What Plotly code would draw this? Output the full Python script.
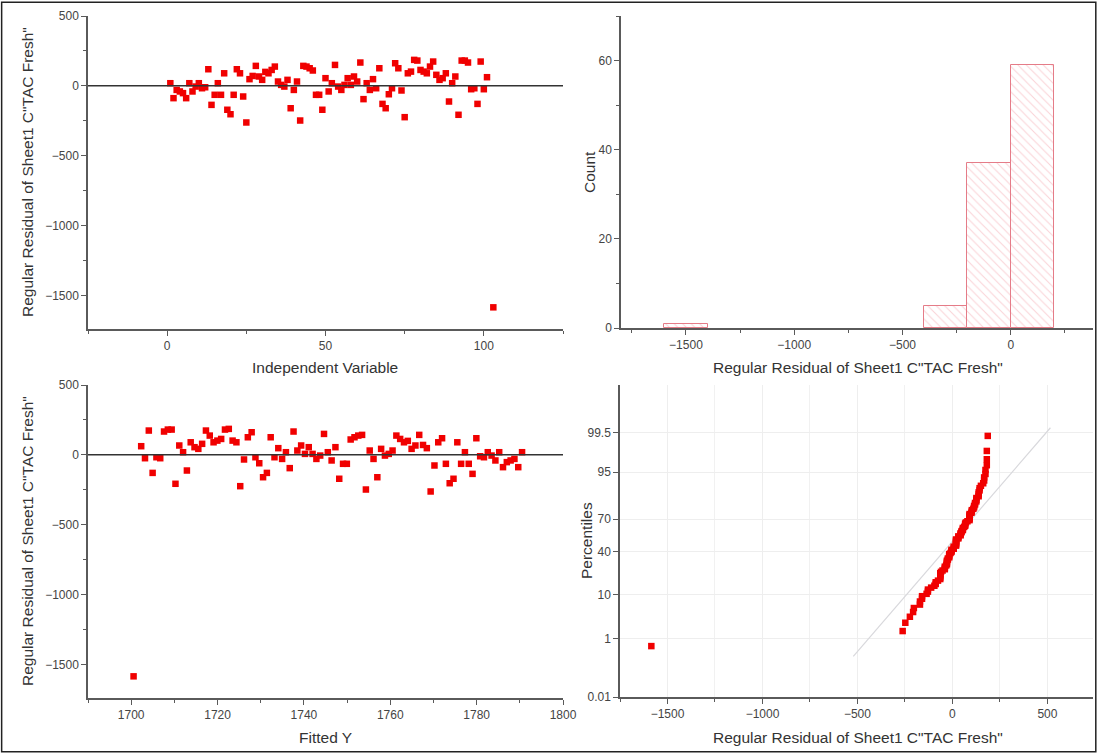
import plotly.graph_objects as go
from statistics import NormalDist

# ---- data ----
residuals = [19, -88, -29, -40, -52, -88, 19, -40, -5, 19, -17, -10, 119, -136, -64, 19, -64, 90,
             -171, -203, -64, 119, 90, -76, -262, 48, 71, 143, 67, 43, 100, 90, 114, 138, 31, 7,
             -5, 43, -160, -29, 31, -248, 143, 138, 126, 110, -64, -64, -171, 55, -40, 19, 150,
             -5, -29, 7, 55, 7, 67, 31, 167, -95, 19, -29, 48, -17, 126, -129, -160, -60, -17,
             162, 126, -33, -224, 90, 102, 186, 181, 114, 102, 90, 138, 174, 79, 43, 55, 90,
             -112, 19, 67, -207, 181, 181, 167, -24, -17, -129, 174, -24, 62, -1585]
independent = list(range(1, 102)) + [103]
fit_intercept = 1791.4
fit_slope = -0.882
fitted = [fit_intercept + fit_slope * v for v in independent]

hist_start, hist_end, hist_size = -1600, 200, 200
pct_ticks = [0.01, 1, 10, 40, 70, 95, 99.5]
pct_labels = ["0.01", "1", "10", "40", "70", "95", "99.5"]

nd = NormalDist()
n = len(residuals)
sorted_res = sorted(residuals)
z_scores = [nd.inv_cdf((i + 1 - 0.375) / (n + 0.25)) for i in range(n)]
mu = sum(residuals) / n
sd = (sum((r - mu) ** 2 for r in residuals) / (n - 1)) ** 0.5
ref_z = [-2.75, 2.70]
ref_x = [mu + sd * z for z in ref_z]

W, H = 1098, 754
def xd(a, b):
    return [a / W, b / W]
def yd(top, bottom):
    return [1 - bottom / H, 1 - top / H]

RED = "#F00000"
AX = "#5a5a5a"
FONT = "Liberation Sans, Arial, sans-serif"

fig = go.Figure()
mk = dict(symbol="square", size=6.5, color=RED, line=dict(width=0))
fig.add_trace(go.Scatter(x=independent, y=residuals, mode="markers", marker=mk,
                         xaxis="x", yaxis="y", showlegend=False))
fig.add_trace(go.Histogram(x=residuals, xbins=dict(start=hist_start, end=hist_end, size=hist_size),
                           marker=dict(color="white", line=dict(color="#E57C88", width=1),
                                       pattern=dict(shape="\\", fgcolor="#F4A8B0", size=6, solidity=0.18)),
                           xaxis="x2", yaxis="y2", showlegend=False))
fig.add_trace(go.Scatter(x=fitted, y=residuals, mode="markers", marker=mk,
                         xaxis="x3", yaxis="y3", showlegend=False))
fig.add_trace(go.Scatter(x=ref_x, y=ref_z, mode="lines", line=dict(color="#d8d8dc", width=1.2),
                         xaxis="x4", yaxis="y4", showlegend=False))
fig.add_trace(go.Scatter(x=sorted_res, y=z_scores, mode="markers", marker=mk,
                         xaxis="x4", yaxis="y4", showlegend=False))

def ax(domain, rng, anchor, dtick=None, minor=None, **kw):
    d = dict(domain=domain, range=rng, anchor=anchor, showline=True, linecolor=AX, linewidth=1.5,
             ticks="outside", ticklen=5, tickwidth=1.2, tickcolor=AX, showgrid=False, zeroline=False,
             automargin=False, tickfont=dict(size=12, color="#444", family=FONT))
    if dtick is not None:
        d["dtick"] = dtick
    if minor is not None:
        d["minor"] = dict(dtick=minor, ticks="outside", ticklen=3, tickwidth=1, tickcolor=AX)
    d.update(kw)
    return d

fig.update_layout(
    width=W, height=H, margin=dict(l=0, r=0, t=0, b=0, pad=0), autosize=False,
    paper_bgcolor="white", plot_bgcolor="white", bargap=0,
    font=dict(family=FONT, color="#333"),
    xaxis=ax(xd(88, 563), [-25, 125], "y", dtick=50, minor=25, tick0=0),
    yaxis=ax(yd(16, 329), [-1740, 500], "x", dtick=500, minor=250, tick0=0),
    xaxis2=ax(xd(621, 1093), [-1800, 380], "y2", dtick=500, minor=250, tick0=0),
    yaxis2=ax(yd(16, 328), [0, 70], "x2", dtick=20, minor=10, tick0=0),
    xaxis3=ax(xd(88, 563), [1690, 1800], "y3", dtick=20, minor=10, tick0=1700),
    yaxis3=ax(yd(385, 698), [-1740, 500], "x3", dtick=500, minor=250, tick0=0),
    xaxis4=ax(xd(620, 1093), [-1750, 740], "y4", dtick=500, tick0=0, showgrid=True,
              gridcolor="#eeeeee", gridwidth=1),
    yaxis4=ax(yd(385, 697), [nd.inv_cdf(0.0001), nd.inv_cdf(0.9999)], "x4",
              tickmode="array", tickvals=[nd.inv_cdf(p / 100) for p in pct_ticks], ticktext=pct_labels,
              showgrid=True, gridcolor="#eeeeee", gridwidth=1),
)
fig.layout.xaxis4.minor = dict(dtick=250, ticks="outside", ticklen=3, tickwidth=1, tickcolor=AX,
                               showgrid=True, gridcolor="#f1f1f1", gridwidth=1)

# zero reference lines on residual plots
for yr, xr in [("y", "x"), ("y3", "x3")]:
    fig.add_shape(type="line", xref=f"{xr} domain", yref=yr, x0=0, x1=1, y0=0, y1=0,
                  line=dict(color="#333", width=1.5))

# outer border
fig.add_shape(type="rect", xref="paper", yref="paper", x0=0.0015, x1=0.998, y0=0.003, y1=0.997,
              line=dict(color="#222", width=1.5))

ytitle = 'Regular Residual of Sheet1 C"TAC Fresh"'
def ann(text, x, y, angle=0):
    fig.add_annotation(text=text, x=x / W, y=1 - y / H, xref="paper", yref="paper", showarrow=False,
                       textangle=angle, font=dict(size=15.5, color="#333", family=FONT),
                       xanchor="center", yanchor="middle")

ann("Independent Variable", 325, 368)
ann(ytitle, 858, 368)
ann("Fitted Y", 325, 737)
ann(ytitle, 858, 737)
ann(ytitle, 27, 172, -90)
ann(ytitle, 27, 541, -90)
ann("Count", 589, 172, -90)
ann("Percentiles", 586, 541, -90)

fig.write_html("out.html", config={"displayModeBar": False},
               post_script="document.body.style.margin='0';document.body.style.overflow='hidden';")
